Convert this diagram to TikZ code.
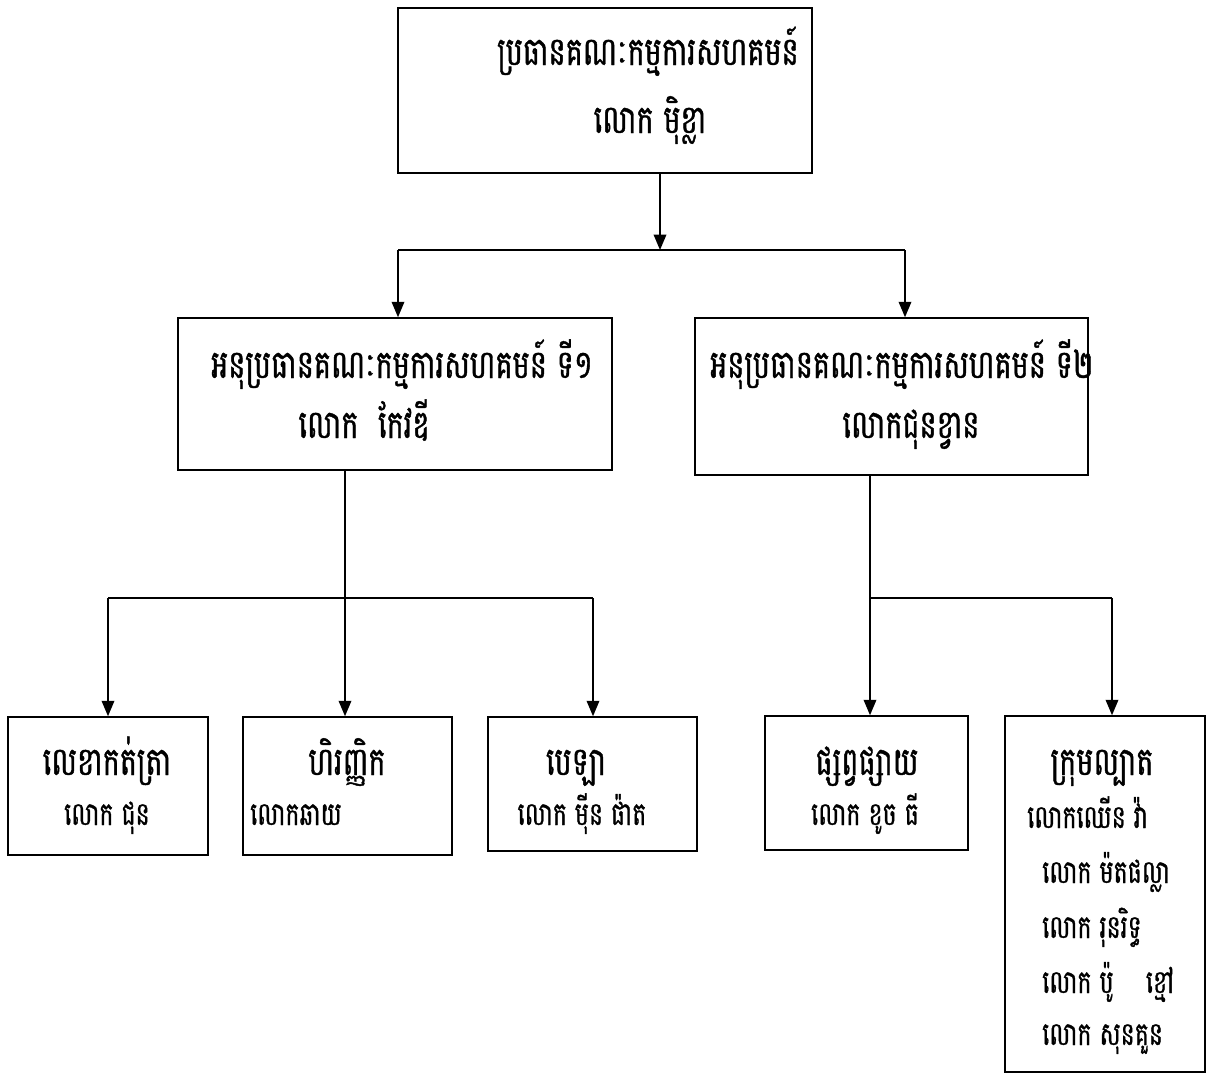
\documentclass[tikz,border=0pt]{standalone}
\usepackage{fontspec}
\newfontfamily\khmerfont[Script=Khmer,FakeStretch=0.73,FakeBold=1]{Battambang}
\usetikzlibrary{arrows,arrows.meta,shapes,positioning}
\tikzstyle{arrow} = [line width=1.1pt,-{Triangle[length=11pt,width=9pt]}]
\tikzstyle{line} = [line width=1.1pt]
\tikzstyle{box} = [rectangle, draw, line width=1.1pt]
\tikzstyle{big} = [font=\khmerfont\fontsize{28}{32}\selectfont, inner sep=0pt]
\tikzstyle{small} = [font=\khmerfont\fontsize{23}{27}\selectfont, inner sep=0pt]

\begin{document}
\begin{tikzpicture}
    \useasboundingbox (0,0) rectangle (30.175,-26.875);

    % Committee chief
    \node[box, minimum width=10.35cm, minimum height=4.125cm] (chief) at (15.125,-2.2625) {};
    \node[big, anchor=base] (chiefTitle) at (16.2,-1.625) {ប្រធានគណៈកម្មការសហគមន៍};
    \node[big, anchor=base] (chiefName) at (16.25,-3.325) {លោក មុិខ្លា};

    % Vice chiefs
    \node[box, minimum width=10.85cm, minimum height=3.8cm] (vice1) at (9.875,-9.85) {};
    \node[big, anchor=base] (vice1Title) at (10.05,-9.45) {អនុប្រធានគណៈកម្មការសហគមន៍ ទី១};
    \node[big, anchor=base] (vice1Name) at (9.1,-10.95) {លោក\ \ កែវឌី};

    \node[box, minimum width=9.825cm, minimum height=3.925cm] (vice2) at (22.2875,-9.9125) {};
    \node[big, anchor=base] (vice2Title) at (22.55,-9.45) {អនុប្រធានគណៈកម្មការសហគមន៍ ទី២};
    \node[big, anchor=base] (vice2Name) at (22.775,-10.95) {លោកជុនខ្វាន};

    % Chief to vice chiefs
    \coordinate (topBus) at (16.5,-6.25);
    \coordinate (topBusL) at (9.95,-6.25);
    \coordinate (topBusR) at (22.625,-6.25);
    \draw[arrow] (chief.south -| topBus) -- (topBus);
    \draw[line] (topBusL) -- (topBusR);
    \draw[arrow] (topBusL) -- (topBusL |- vice1.north);
    \draw[arrow] (topBusR) -- (topBusR |- vice2.north);

    % Offices
    \node[box, minimum width=5.0cm, minimum height=3.45cm] (secretary) at (2.7,-19.65) {};
    \node[big, anchor=base] (secretaryTitle) at (2.675,-19.375) {លេខាកត់ត្រា};
    \node[small, anchor=base] (secretaryName) at (2.675,-20.625) {លោក ជុន};

    \node[box, minimum width=5.225cm, minimum height=3.45cm] (treasurer) at (8.6875,-19.65) {};
    \node[big, anchor=base] (treasurerTitle) at (8.675,-19.375) {ហិរញ្ញិក};
    \node[small, anchor=base west] (treasurerName) at (6.25,-20.625) {លោកឆាយ};

    \node[box, minimum width=5.225cm, minimum height=3.35cm] (cashier) at (14.8125,-19.6) {};
    \node[big, anchor=base] (cashierTitle) at (14.4,-19.375) {បេឡា};
    \node[small, anchor=base] (cashierName) at (14.55,-20.625) {លោក មុីន ផ៉ាត};

    \node[box, minimum width=5.075cm, minimum height=3.35cm] (media) at (21.6625,-19.575) {};
    \node[big, anchor=base] (mediaTitle) at (21.675,-19.375) {ផ្សព្វផ្សាយ};
    \node[small, anchor=base] (mediaName) at (21.625,-20.625) {លោក ខូច ធី};

    \node[box, minimum width=5.0cm, minimum height=8.9cm] (patrol) at (27.625,-22.35) {};
    \node[big, anchor=base] (patrolTitle) at (27.55,-19.375) {ក្រុមល្បាត};
    \node[small, anchor=base west] (patrolName1) at (25.675,-20.7) {លោកឈើន វ៉ា};
    \node[small, anchor=base west] (patrolName2) at (26.05,-22.075) {លោក ម៉តផល្លា};
    \node[small, anchor=base west] (patrolName3) at (26.05,-23.45) {លោក រុនរិទ្ធ};
    \node[small, anchor=base west] (patrolName4) at (26.05,-24.825) {លោក ប៉ូ\quad ខ្មៅ};
    \node[small, anchor=base west] (patrolName5) at (26.05,-26.125) {លោក សុនគួន};

    % Vice chief 1 to offices
    \coordinate (leftBus) at (8.625,-14.95);
    \coordinate (leftBusL) at (2.7,-14.95);
    \coordinate (leftBusR) at (14.825,-14.95);
    \draw[arrow] (vice1.south -| leftBus) -- (leftBus |- treasurer.north);
    \draw[line] (leftBusL) -- (leftBusR);
    \draw[arrow] (leftBusL) -- (leftBusL |- secretary.north);
    \draw[arrow] (leftBusR) -- (leftBusR |- cashier.north);

    % Vice chief 2 to offices
    \coordinate (rightBus) at (21.75,-14.95);
    \coordinate (rightBusR) at (27.8,-14.95);
    \draw[arrow] (vice2.south -| rightBus) -- (rightBus |- media.north);
    \draw[line] (rightBus) -- (rightBusR);
    \draw[arrow] (rightBusR) -- (rightBusR |- patrol.north);
\end{tikzpicture}
\end{document}
